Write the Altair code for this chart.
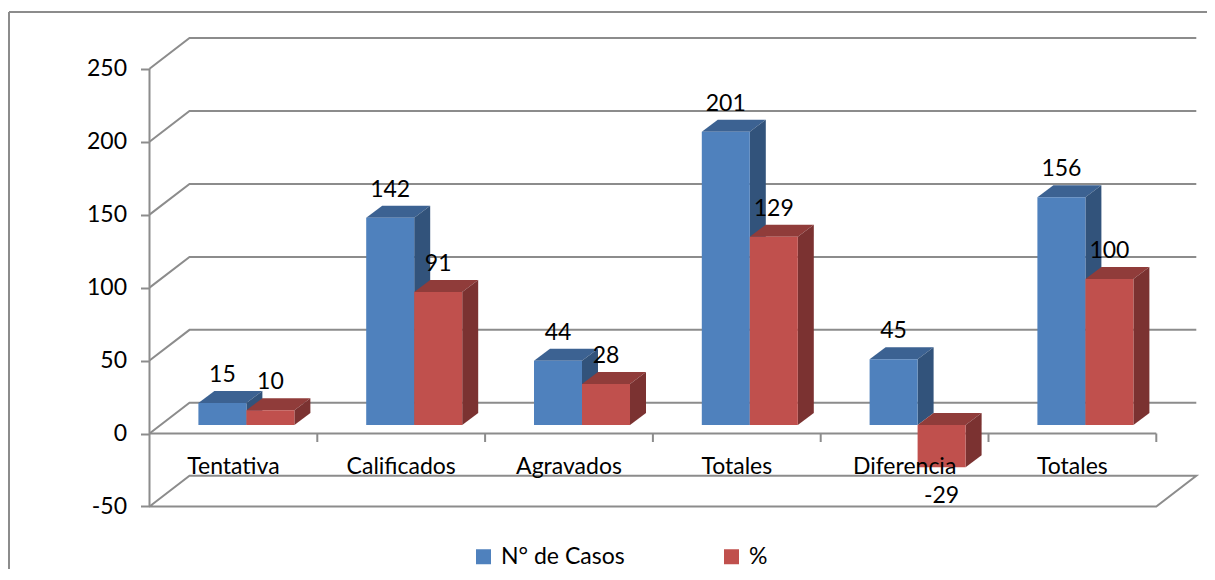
import altair as alt
import pandas as pd

# ---------------- data ----------------
categories = ["Tentativa", "Calificados", "Agravados", "Totales", "Diferencia", "Totales"]
casos = [15, 142, 44, 201, 45, 156]
porcentaje = [10, 91, 28, 129, -29, 100]
series_names = ["N° de Casos", "%"]
y_ticks = [-50, 0, 50, 100, 150, 200, 250]

# ---------------- styles / geometry ----------------
FONT = "Lato"
FS = 23
W, H = 1198, 557            # view = chart frame
PX_CAT = 167.8              # px per category on the front plane
X0_PX = 140.5               # view px of the front value axis
Y0_PX = 421.5               # view px of value 0 on the front plane
PX_VAL = 1.459              # px per value unit
x_domain = [-X0_PX / PX_CAT, (W - X0_PX) / PX_CAT]
y_domain = [(Y0_PX - H) / PX_VAL, Y0_PX / PX_VAL]

WALL_DX = 40 / PX_CAT       # depth of the back wall
WALL_DY = 30.7 / PX_VAL
BAR_SHIFT = 13 / PX_CAT     # bars sit mid-depth
BAR_BASE = 5.9
BAR_W = 48 / PX_CAT
BOX_DX = 16 / PX_CAT        # depth of each box
BOX_DY = 12 / PX_VAL
TICK_LEN = 8.5 / PX_VAL
LABEL_Y = -23

GRID = "#8c8c8c"
FRONT = ["#4F81BD", "#C0504D"]
TOP = ["#3C6292", "#903C3A"]
SIDE = ["#32537B", "#7B3231"]

xs = alt.Scale(domain=x_domain, nice=False, zero=False)
ys = alt.Scale(domain=y_domain, nice=False, zero=False)
y_axis = alt.Axis(values=y_ticks, title=None, domain=False, grid=False, ticks=True,
                  tickColor=GRID, tickWidth=2, tickSize=9, labelFont=FONT,
                  labelFontSize=FS, labelColor="black", labelPadding=14,
                  labelExpr="'' + datum.value", offset=-X0_PX)


def X(f):
    return alt.X(f, type="quantitative", scale=xs, axis=None)


def Y(f):
    return alt.Y(f, type="quantitative", scale=ys, axis=y_axis, stack=None)


# ---------------- frame lines (3D walls) ----------------
rows = []
seg = 0
for v in y_ticks:
    pts = [(0, v), (WALL_DX, v + WALL_DY), (6 + WALL_DX, v + WALL_DY)]
    if v == y_ticks[0]:
        pts += [(6, v), (0, v)]
    for k, (a, b) in enumerate(pts):
        rows.append({"seg": seg, "ord": k, "x": a, "y": b})
    seg += 1
for pts in [[(0, 0), (6, 0)], [(0, y_ticks[0]), (0, y_ticks[-1])]] + \
        [[(k, 0), (k, -TICK_LEN)] for k in range(1, 7)]:
    for k, (a, b) in enumerate(pts):
        rows.append({"seg": seg, "ord": k, "x": a, "y": b})
    seg += 1
lines_df = pd.DataFrame(rows)

layers = [
    alt.Chart(lines_df).mark_line(color=GRID, strokeWidth=2).encode(
        x=X("x"), y=Y("y"), detail="seg:N", order="ord:Q")
]

# ---------------- bars as boxes ----------------
label_rows = []
for s, vals in enumerate([casos, porcentaje]):
    front, top, side = [], [], []
    for i, v in enumerate(vals):
        c = i + 0.5 + BAR_SHIFT
        l = c - BAR_W if s == 0 else c
        r = l + BAR_W
        lo = BAR_BASE + min(v, 0)
        hi = BAR_BASE + max(v, 0)
        front.append({"x": l, "x2": r, "y": lo, "y2": hi, "serie": series_names[s]})
        top += [{"id": i, "y": hi, "x": l, "x2": r},
                {"id": i, "y": hi + BOX_DY, "x": l + BOX_DX, "x2": r + BOX_DX}]
        side += [{"id": i, "x": r, "y": lo, "y2": hi},
                 {"id": i, "x": r + BOX_DX, "y": lo + BOX_DY, "y2": hi + BOX_DY}]
        label_rows.append({"x": (l + r) / 2,
                           "y": hi + BOX_DY if v >= 0 else lo,
                           "neg": v < 0, "text": str(v)})
    layers.append(alt.Chart(pd.DataFrame(top)).mark_area(
        orient="horizontal", color=TOP[s]).encode(
        y=Y("y"), x=X("x"), x2="x2", detail="id:N"))
    layers.append(alt.Chart(pd.DataFrame(side)).mark_area(
        orient="vertical", color=SIDE[s]).encode(
        x=X("x"), y=Y("y"), y2="y2", detail="id:N"))
    layers.append(alt.Chart(pd.DataFrame(front)).mark_rect().encode(
        x=X("x"), x2="x2", y=Y("y"), y2="y2",
        color=alt.Color("serie:N", scale=alt.Scale(domain=series_names, range=FRONT),
                        legend=alt.Legend(title=None, orient="none", legendX=463,
                                          legendY=533, direction="horizontal",
                                          symbolType="square", symbolSize=225,
                                          symbolStrokeWidth=0, labelFont=FONT,
                                          labelFontSize=FS, labelColor="black",
                                          labelOffset=6, columnPadding=95))))

labels_df = pd.DataFrame(label_rows)
layers.append(alt.Chart(labels_df[~labels_df["neg"]]).mark_text(
    font=FONT, fontSize=FS, color="black", baseline="middle", dy=-16).encode(
    x=X("x"), y=Y("y"), text="text:N"))
layers.append(alt.Chart(labels_df[labels_df["neg"]]).mark_text(
    font=FONT, fontSize=FS, color="black", baseline="middle", dy=29).encode(
    x=X("x"), y=Y("y"), text="text:N"))

cat_df = pd.DataFrame({"x": [i + 0.5 for i in range(len(categories))],
                       "y": [LABEL_Y] * len(categories), "text": categories})
layers.append(alt.Chart(cat_df).mark_text(
    font=FONT, fontSize=FS, color="black", baseline="middle").encode(
    x=X("x"), y=Y("y"), text="text:N"))

# ---------------- outer frame (left and top edges) ----------------
one = alt.Data(values=[{"a": 1}])
layers.append(alt.Chart(one).mark_rule(color=GRID, strokeWidth=2).encode(
    x=alt.value(0), y=alt.value(0), y2=alt.value(H)))
layers.append(alt.Chart(one).mark_rule(color=GRID, strokeWidth=2).encode(
    y=alt.value(0), x=alt.value(0), x2=alt.value(W)))

chart = alt.layer(*layers).properties(
    width=W, height=H,
    padding={"left": 1, "top": 4, "right": 0, "bottom": 0},
    autosize=alt.AutoSizeParams(type="none"),
).configure_view(strokeWidth=0).configure(background="white")

chart.save("out.html", embed_options={"renderer": "svg", "actions": False})
